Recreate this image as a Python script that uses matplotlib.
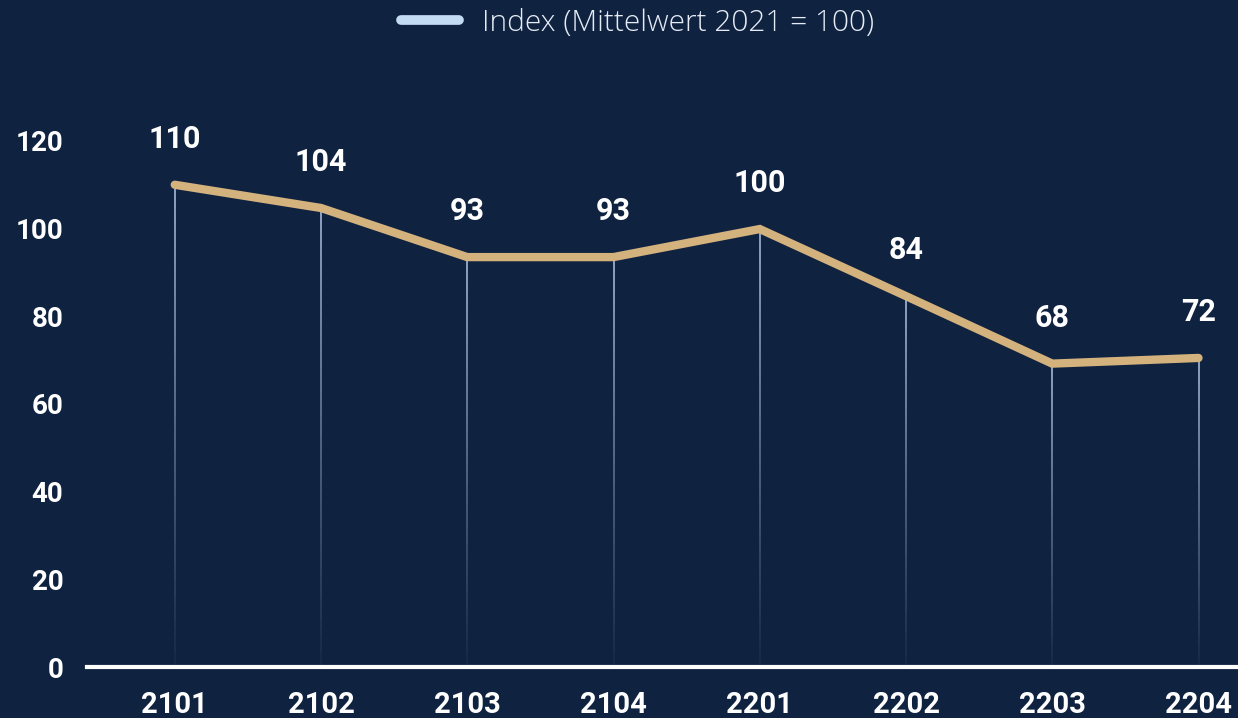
import numpy as np
import matplotlib
matplotlib.use("Agg")
import matplotlib.pyplot as plt
from matplotlib.collections import LineCollection
from matplotlib.lines import Line2D

categories = ["2101", "2102", "2103", "2104", "2201", "2202", "2203", "2204"]
values = [110.0, 104.7, 93.5, 93.5, 99.9, 84.6, 69.2, 70.5]
value_labels = ["110", "104", "93", "93", "100", "84", "68", "72"]
yticks = [0, 20, 40, 60, 80, 100, 120]
series_name = "Index (Mittelwert 2021 = 100)"

BG = "#0f2240"
GOLD = "#d4b27d"
DROP = np.array([0.62, 0.70, 0.82])
LEG = "#c3dbf3"
FONT = "Roboto"

fig = plt.figure(figsize=(12.38, 7.18), dpi=100, facecolor=BG)
ax = fig.add_axes([87 / 1238, 51 / 718, 1 - 87 / 1238, (667 - 119) / 718])
ax.set_facecolor(BG)

x = np.arange(len(categories))
ax.set_xlim(-0.60, 7.27)
ax.set_ylim(0, 125)

# gradient drop lines
for xi, v in zip(x, values):
    n = 60
    ys = np.linspace(0, v, n + 1)
    segs = [[(xi, ys[i]), (xi, ys[i + 1])] for i in range(n)]
    alphas = np.linspace(0.05, 0.9, n)
    cols = [(*DROP, a) for a in alphas]
    ax.add_collection(LineCollection(segs, colors=cols, linewidths=1.4, zorder=2))

ax.plot(x, values, color=GOLD, lw=6, solid_capstyle="round", solid_joinstyle="miter", zorder=3)

for xi, v, lab in zip(x, values, value_labels):
    ax.annotate(lab, (xi, v), xytext=(0, 33), textcoords="offset points",
                ha="center", va="center", color="white", fontsize=22,
                fontweight="bold", family=FONT, zorder=4)

ax.axhline(0, color="white", lw=3, zorder=5, clip_on=False)

for s in ax.spines.values():
    s.set_visible(False)
ax.set_xticks(x)
ax.set_xticklabels(categories, fontsize=21, fontweight="bold", color="white", family=FONT)
ax.set_yticks(yticks)
ax.set_yticklabels([str(t) for t in yticks], fontsize=20, fontweight="bold", color="white", family=FONT)
ax.tick_params(axis="both", length=0)
ax.tick_params(axis="x", pad=17)
ax.tick_params(axis="y", pad=17)

handle = Line2D([0], [0], color=LEG, lw=7, solid_capstyle="round")
leg = fig.legend([handle], [series_name], loc="center", bbox_to_anchor=(0.515, 0.968),
                 frameon=False, handlelength=1.95, handletextpad=0.75,
                 prop={"family": "Open Sans", "size": 21.5, "weight": "light"})
for t in leg.get_texts():
    t.set_color("#e6ecf5")

fig.savefig("out.png", dpi=100, facecolor=BG)
